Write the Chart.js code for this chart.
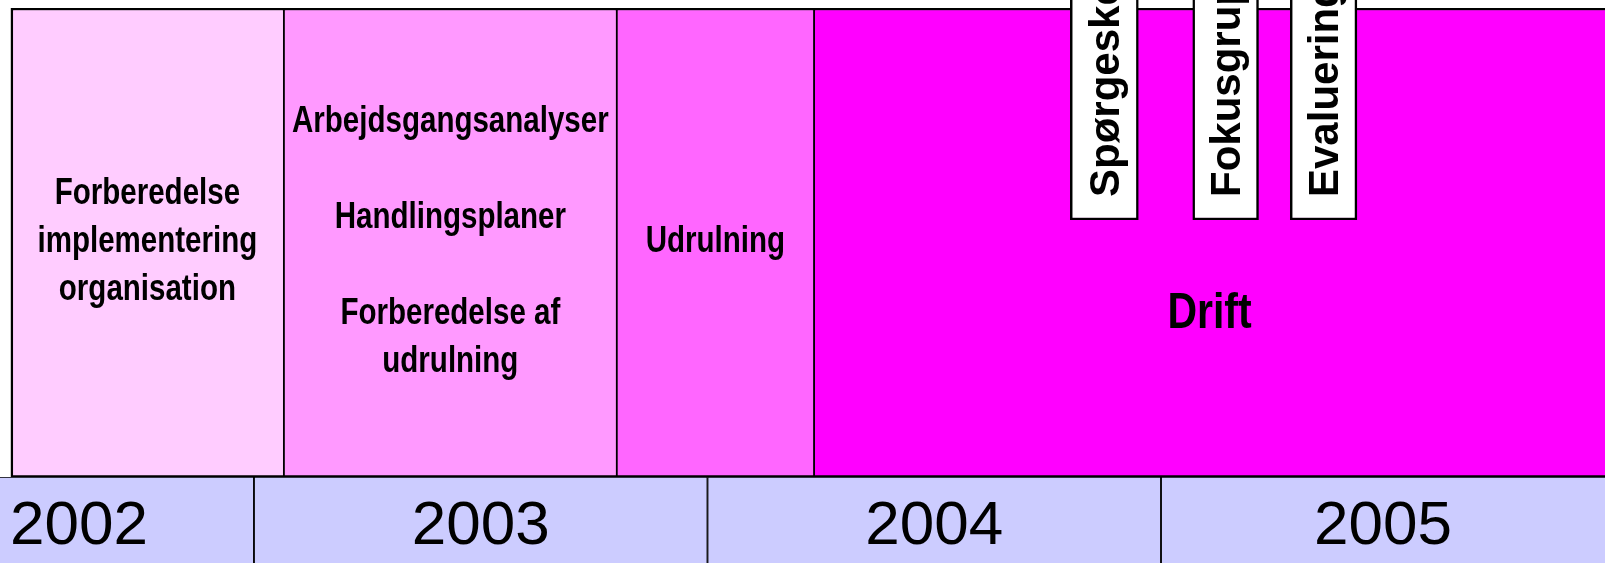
<!DOCTYPE html>
<html lang="da">
<head>
    <meta charset="UTF-8">
    <title>Tidsplan 2002-2005</title>
    <script src="https://cdn.jsdelivr.net/npm/chart.js"></script>
    <style>
        body { margin: 0; background: #fff; }
        .chart-box { width: 1605px; height: 563px; }
    </style>
</head>
<body>
    <div class="chart-box"><canvas id="timeline"></canvas></div>

    <script>
        // Faser, tid angivet som år med decimaler
        const phaseStart = [2002.464, 2003.066, 2003.80, 2004.235];
        const phaseEnd = [2003.066, 2003.80, 2004.235, 2006.2];
        const phaseText = [
            ['Forberedelse', 'implementering', 'organisation'],
            ['Arbejdsgangsanalyser', '', 'Handlingsplaner', '', 'Forberedelse af', 'udrulning'],
            ['Udrulning'],
            ['', '', '', 'Drift']
        ];

        // Aktiviteter i driftsfasen
        const activityNames = ['Spørgeskema', 'Fokusgrupper', 'Evaluering'];
        const activityStart = [2004.80, 2005.07, 2005.285];
        const activityEnd = [2004.95, 2005.215, 2005.432];

        // Årstal på tidslinjen
        const years = ['2002', '2003', '2004', '2005'];
        const yearStart = [2002, 2003, 2004, 2005];
        const yearEnd = [2003, 2004, 2005, 2006];

        const xMin = 2002.44;
        const xMax = 2005.979;

        const phaseColors = ['#ffccff', '#ff99ff', '#ff66ff', '#ff00ff'];

        function bars(starts, ends, row) {
            return starts.map((s, i) => ({ x: [s, ends[i]], y: row }));
        }

        const common = {
            barPercentage: 1,
            categoryPercentage: 1,
            grouped: false,
            borderColor: '#000',
            borderSkipped: false
        };

        function rowAxis(label, weight, order) {
            return {
                type: 'category',
                labels: [label],
                offset: true,
                position: 'left',
                stack: 'rows',
                stackWeight: weight,
                weight: order,
                display: false
            };
        }

        // condensed text: use Liberation Sans Narrow if present, otherwise squeeze
        let squeeze = null;
        function narrowFont(size) {
            return 'bold ' + size + 'px "Liberation Sans Narrow", "Liberation Sans"';
        }

        const labelPlugin = {
            id: 'timelineLabels',
            afterDatasetsDraw(chart) {
                const { ctx, chartArea: area } = chart;
                const { x, yTop, yMid, yYear } = chart.scales;
                const visible = (a, b) => [
                    Math.max(x.getPixelForValue(a), area.left),
                    Math.min(x.getPixelForValue(b), area.right)
                ];

                ctx.save();
                ctx.fillStyle = '#000';

                if (squeeze === null) {
                    ctx.font = narrowFont(36);
                    const w1 = ctx.measureText('Udrulning').width;
                    ctx.font = 'bold 36px "Liberation Sans"';
                    const w2 = ctx.measureText('Udrulning').width;
                    squeeze = w1 < w2 * 0.95 ? 1 : 0.82;
                }

                // tekst i faserne
                ctx.textAlign = 'center';
                ctx.textBaseline = 'middle';
                const midY = (yTop.top + yMid.bottom) / 2;
                const lh = 48;
                phaseText.forEach((lines, i) => {
                    const [l, r] = visible(phaseStart[i], phaseEnd[i]);
                    const y0 = midY - (lines.length - 1) * lh / 2;
                    ctx.font = narrowFont(i === 3 ? 50 : 36);
                    lines.forEach((t, j) => {
                        ctx.save();
                        ctx.translate((l + r) / 2, y0 + j * lh);
                        ctx.scale(squeeze, 1);
                        ctx.fillText(t, 0, 0);
                        ctx.restore();
                    });
                });

                // lodret tekst i de hvide bokse
                ctx.font = 'bold 42px "Liberation Sans"';
                ctx.textAlign = 'left';
                ctx.textBaseline = 'alphabetic';
                activityNames.forEach((name, i) => {
                    ctx.save();
                    ctx.translate(x.getPixelForValue(activityEnd[i]) - 19, yTop.bottom - 23);
                    ctx.rotate(-Math.PI / 2);
                    ctx.fillText(name, 0, 0);
                    ctx.restore();
                });

                // årstal
                ctx.font = '62px "Liberation Sans"';
                const yc = (yYear.top + yYear.bottom) / 2;
                years.forEach((yr, i) => {
                    const m = ctx.measureText(yr);
                    const base = yc + m.actualBoundingBoxAscent / 2 + 2;
                    const [l, r] = visible(yearStart[i], yearEnd[i]);
                    if (x.getPixelForValue(yearStart[i]) < area.left) {
                        ctx.textAlign = 'left';
                        ctx.fillText(yr, l + 10, base);
                    } else {
                        ctx.textAlign = 'center';
                        ctx.fillText(yr, (l + r) / 2, base);
                    }
                });

                ctx.restore();
            }
        };

        const ctx = document.getElementById('timeline').getContext('2d');
        const timeline = new Chart(ctx, {
            type: 'bar',
            data: {
                datasets: [
                    {
                        ...common,
                        label: 'Aktiviteter',
                        data: bars(activityStart, activityEnd, 'top'),
                        yAxisID: 'yTop',
                        backgroundColor: '#fff',
                        borderWidth: { top: 0, right: 2.5, bottom: 2.5, left: 2.5 },
                        order: 0
                    },
                    {
                        ...common,
                        label: 'Aktiviteter (over kant)',
                        data: bars(activityStart, activityEnd, 'gap'),
                        yAxisID: 'yGap',
                        backgroundColor: '#fff',
                        borderWidth: { top: 0, right: 2.5, bottom: 0, left: 2.5 },
                        order: 0
                    },
                    {
                        ...common,
                        label: 'Faser',
                        data: bars(phaseStart, phaseEnd, 'top'),
                        yAxisID: 'yTop',
                        backgroundColor: phaseColors,
                        borderWidth: c => ({ top: 2.5, right: 1.25, bottom: 0, left: c.dataIndex === 0 ? 2.5 : 1.25 }),
                        order: 1
                    },
                    {
                        ...common,
                        label: 'Faser (nederst)',
                        data: bars(phaseStart, phaseEnd, 'mid'),
                        yAxisID: 'yMid',
                        backgroundColor: phaseColors,
                        borderWidth: c => ({ top: 0, right: 1.25, bottom: 2, left: c.dataIndex === 0 ? 2.5 : 1.25 }),
                        order: 1
                    },
                    {
                        ...common,
                        label: 'År',
                        data: bars(yearStart, yearEnd, 'year'),
                        yAxisID: 'yYear',
                        backgroundColor: '#ccccff',
                        borderWidth: { top: 1, right: 1.25, bottom: 0, left: 1.25 },
                        order: 1
                    }
                ]
            },
            options: {
                indexAxis: 'y',
                responsive: true,
                maintainAspectRatio: false,
                animation: false,
                layout: { padding: 0 },
                scales: {
                    x: { type: 'linear', min: xMin, max: xMax, display: false },
                    yGap: rowAxis('gap', 8, 4),
                    yTop: rowAxis('top', 212, 3),
                    yMid: rowAxis('mid', 257, 2),
                    yYear: rowAxis('year', 86, 1)
                },
                plugins: {
                    legend: { display: false },
                    tooltip: { enabled: false }
                }
            },
            plugins: [labelPlugin]
        });
    </script>
</body>
</html>
